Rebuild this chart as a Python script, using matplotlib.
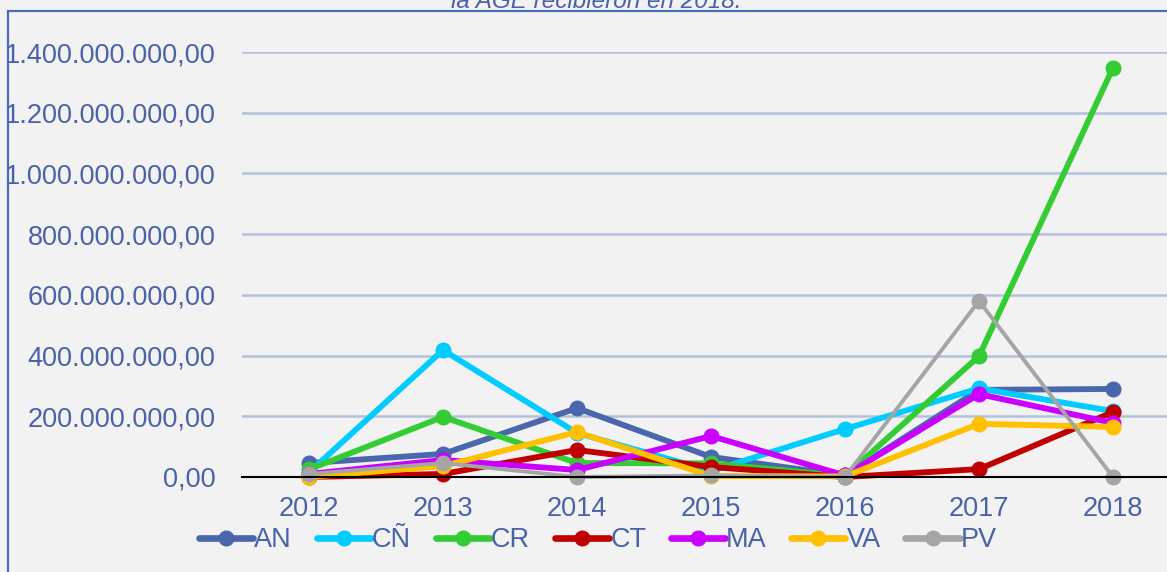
import matplotlib
matplotlib.use("Agg")
import matplotlib.pyplot as plt
from matplotlib.patches import Rectangle
from matplotlib.ticker import FuncFormatter

years = ["2012", "2013", "2014", "2015", "2016", "2017", "2018"]

# importes en euros
AN = [46e6, 76e6, 227e6, 66e6, 5e6, 287e6, 290e6]
CN = [15e6, 418e6, 145e6, 20e6, 158e6, 292e6, 217e6]
CR = [25e6, 198e6, 46e6, 45e6, 3e6, 398e6, 1348e6]
CT = [0, 10e6, 89e6, 33e6, 0, 26e6, 214e6]
MA = [10e6, 56e6, 23e6, 135e6, 5e6, 273e6, 178e6]
VA = [0, 36e6, 148e6, 3e6, 2e6, 175e6, 165e6]
PV = [10e6, 46e6, 0, 5e6, 0, 580e6, 0]

series = [
    ("AN", AN, "#4a66ad"),
    ("CÑ", CN, "#00ccff"),
    ("CR", CR, "#33cc33"),
    ("CT", CT, "#c00000"),
    ("MA", MA, "#cc00ff"),
    ("VA", VA, "#ffc000"),
    ("PV", PV, "#a5a5a5"),
]

plt.rcParams["font.family"] = ["Liberation Sans", "DejaVu Sans"]
txt_color = "#4a63a8"
bg = "#f2f2f2"

fig = plt.figure(figsize=(11.67, 5.72), dpi=100, facecolor=bg)
W, H = 1167, 572
ax = fig.add_axes([242 / W, 1 - 477 / H, 938 / W, 425 / H])
ax.set_facecolor(bg)

x = list(range(len(years)))
for name, vals, col in series:
    lw = 2.8 if name == "PV" else 4.2
    ax.plot(x, vals, color=col, lw=lw, marker="o", markersize=10.5,
            label=name, clip_on=False, solid_capstyle="round")

ax.set_xlim(-0.5, len(years) - 0.5)
ax.set_ylim(0, 1400e6)
ax.set_yticks([i * 200e6 for i in range(8)])
ax.yaxis.set_major_formatter(FuncFormatter(
    lambda v, p: f"{v:,.2f}".replace(",", "X").replace(".", ",").replace("X", ".")))
ax.set_xticks(x)
ax.set_xticklabels(years)
ax.grid(axis="y", color="#b4c0dc", lw=1.8)
ax.set_axisbelow(True)
for s in ["top", "right", "left"]:
    ax.spines[s].set_visible(False)
ax.spines["bottom"].set_color("black")
ax.spines["bottom"].set_linewidth(1.5)
ax.tick_params(axis="both", length=0, labelsize=19.5, labelcolor=txt_color)
ax.tick_params(axis="y", pad=19)
ax.tick_params(axis="x", pad=14)

leg = ax.legend(loc="center", bbox_to_anchor=(598 / W, 1 - 540 / H),
                bbox_transform=fig.transFigure, ncol=7, frameon=False,
                fontsize=19.5, handlelength=2.0, handletextpad=0.05,
                columnspacing=0.9, labelcolor=txt_color)
for h in leg.legend_handles:
    h.set_linewidth(4.8)

# marco del grafico y titulo cortado
fig.patches.append(Rectangle((8 / W, -0.1), 1.2, 1 - 11 / H + 0.1,
                             transform=fig.transFigure, fill=False,
                             edgecolor="#4a6bb5", lw=1.6))
fig.text(596 / W, 1 - 8 / H, "la AGE recibieron en 2018.", ha="center",
         va="baseline", fontsize=17.5, style="italic", color=txt_color)

fig.savefig("out.png", dpi=100, facecolor=bg)
